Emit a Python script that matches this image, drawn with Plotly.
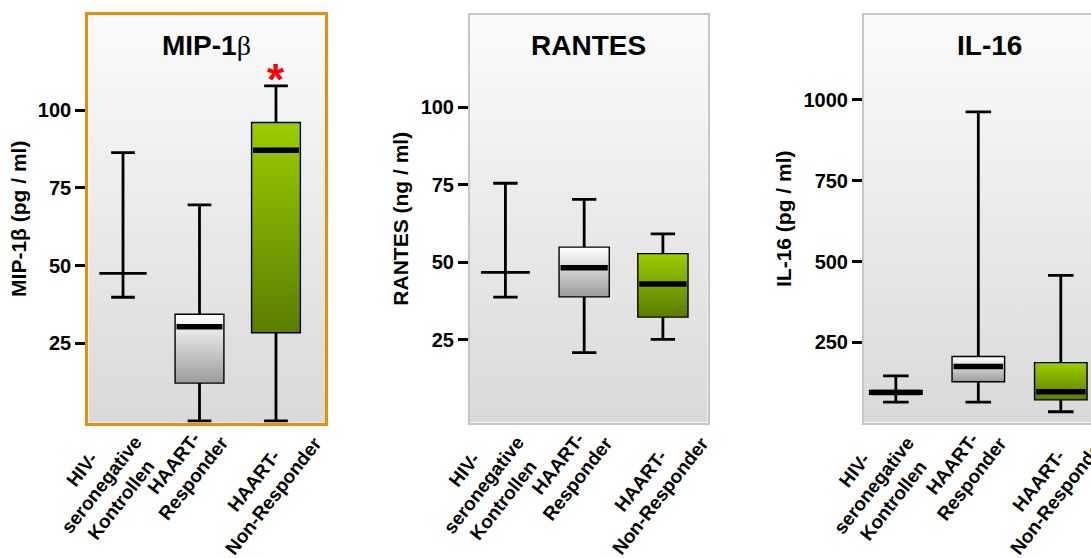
import base64
import plotly.graph_objects as go

# ---------------- data ----------------
categories = ["HIV-<br>seronegative<br>Kontrollen", "HAART-<br>Responder", "HAART-<br>Non-Responder"]

mip_lower = [39.8, 0.0, 0.0]
mip_q1 = [47.5, 12.4, 28.6]
mip_median = [47.5, 30.3, 87.1]
mip_q3 = [47.5, 34.1, 95.8]
mip_upper = [86.3, 69.5, 107.8]

rantes_lower = [38.8, 20.9, 25.2]
rantes_q1 = [46.8, 39.1, 32.6]
rantes_median = [46.8, 48.3, 43.0]
rantes_q3 = [46.8, 54.7, 52.6]
rantes_upper = [75.5, 70.3, 59.2]

il16_lower = [65, 65, 35]
il16_q1 = [91, 130, 74]
il16_median = [95, 175, 97]
il16_q3 = [99, 204, 185]
il16_upper = [146, 963, 457]

mip_ticks = [25, 50, 75, 100]
rantes_ticks = [25, 50, 75, 100]
il16_ticks = [250, 500, 750, 1000]

significant = [False, False, True]  # MIP-1b non-responder marked with *

# ---------------- style ----------------
FONT = "Liberation Sans, Arial, sans-serif"
W, H = 1091, 558
BOX_W = 0.62
fills = [None, ("#9c9c9c", "#ffffff"), ("#5b7e00", "#9acd00")]

panels = [
    dict(title="MIP-1<span style='font-family:Liberation Serif;font-weight:normal'>β</span>",
         ytitle="MIP-1β (pg / ml)", lower=mip_lower, q1=mip_q1, med=mip_median, q3=mip_q3,
         upper=mip_upper, ticks=mip_ticks, xdom=[88.3, 325.0], xr=[-0.454, 2.641],
         yr=[-0.49, 130.6], frame="#e88e0a", fw=3.2, mirror_y=True, title_x=0.5, star=significant),
    dict(title="RANTES", ytitle="RANTES (ng / ml)", lower=rantes_lower, q1=rantes_q1,
         med=rantes_median, q3=rantes_q3, upper=rantes_upper, ticks=rantes_ticks,
         xdom=[470.0, 707.7], xr=[-0.45, 2.569], yr=[-1.59, 129.7], frame="#c6c6c6", fw=2,
         mirror_y=True, title_x=0.5, star=None),
    dict(title="IL-16", ytitle="IL-16 (pg / ml)", lower=il16_lower, q1=il16_q1, med=il16_median,
         q3=il16_q3, upper=il16_upper, ticks=il16_ticks, xdom=[864.0, 1091.0],
         xr=[-0.386, 2.366], yr=[1.8, 1263], frame="#c6c6c6", fw=2, mirror_y=False,
         title_x=0.552, star=None),
]
label_xshift = [-22, -16, -12]
ydom = [1 - 422.5 / H, 1 - 15 / H]

svg = ('<svg xmlns="http://www.w3.org/2000/svg" width="10" height="100" viewBox="0 0 10 100" '
       'preserveAspectRatio="none"><defs><linearGradient id="g" x1="0" y1="0" x2="0" y2="1">'
       '<stop offset="0" stop-color="#fbfbfb"/><stop offset="1" stop-color="#d9d9d9"/>'
       '</linearGradient></defs><rect width="10" height="100" fill="url(#g)"/></svg>')
bg_uri = "data:image/svg+xml;base64," + base64.b64encode(svg.encode()).decode()

fig = go.Figure()
annotations = []
images = []

for p_i, p in enumerate(panels):
    n = "" if p_i == 0 else str(p_i + 1)
    xa, ya = "x" + n, "y" + n
    for i in range(len(categories)):
        # gradient box body
        if fills[i] is not None and p["q3"][i] > p["q1"][i]:
            bot, top = fills[i]
            fig.add_trace(go.Scatter(
                x=[i - BOX_W / 2, i + BOX_W / 2, i + BOX_W / 2, i - BOX_W / 2, i - BOX_W / 2],
                y=[p["q1"][i], p["q1"][i], p["q3"][i], p["q3"][i], p["q1"][i]],
                fill="toself", mode="lines", line=dict(width=0),
                fillgradient=dict(type="vertical", colorscale=[[0, bot], [1, top]]),
                xaxis=xa, yaxis=ya, hoverinfo="skip", showlegend=False))
        fig.add_trace(go.Box(
            x=[i], q1=[p["q1"][i]], median=[p["med"][i]], q3=[p["q3"][i]],
            lowerfence=[p["lower"][i]], upperfence=[p["upper"][i]],
            width=BOX_W, whiskerwidth=0.5, fillcolor="rgba(0,0,0,0)",
            line=dict(color="black", width=2.8), boxpoints=False,
            xaxis=xa, yaxis=ya, hoverinfo="skip", showlegend=False))
        if p["q3"][i] > p["q1"][i]:
            fig.add_trace(go.Scatter(
                x=[i - BOX_W / 2 + 0.01, i + BOX_W / 2 - 0.01], y=[p["med"][i], p["med"][i]],
                mode="lines", line=dict(color="black", width=5.5),
                xaxis=xa, yaxis=ya, hoverinfo="skip", showlegend=False))
        if p["star"] is not None and p["star"][i]:
            annotations.append(dict(
                x=i, y=p["upper"][i], xref=xa, yref=ya, text="<b>*</b>", showarrow=False,
                font=dict(family=FONT, size=44, color="#ff0000"), xanchor="center",
                yanchor="bottom", yshift=-20))
        annotations.append(dict(
            x=i, y=0, xref=xa, yref=ya + " domain", text=categories[i], showarrow=False,
            textangle=-52, align="center", xanchor="center", yanchor="top",
            xshift=label_xshift[i], yshift=8,
            font=dict(family=FONT, size=19, color="black", weight="bold")))

    annotations.append(dict(
        x=p["title_x"], y=0.925, xref=xa + " domain", yref=ya + " domain", text=p["title"],
        showarrow=False, xanchor="center", yanchor="middle",
        font=dict(family=FONT, size=28, color="black", weight="bold")))

    images.append(dict(source=bg_uri, xref=xa + " domain", yref=ya + " domain", x=0, y=1,
                       sizex=1, sizey=1, xanchor="left", yanchor="top", sizing="stretch",
                       layer="below"))

    xkey = "xaxis" + n
    ykey = "yaxis" + n
    fig.update_layout(**{
        xkey: dict(domain=[p["xdom"][0] / W, p["xdom"][1] / W], range=p["xr"], anchor=ya,
                   showgrid=False, zeroline=False, showticklabels=False, ticks="",
                   showline=True, linecolor=p["frame"], linewidth=p["fw"], mirror=True,
                   fixedrange=True),
        ykey: dict(domain=ydom, range=p["yr"], anchor=xa, showgrid=False, zeroline=False,
                   tickvals=p["ticks"], ticks="outside", ticklen=10, tickwidth=2.5,
                   tickcolor="black", showline=True, linecolor=p["frame"], linewidth=p["fw"],
                   mirror=p["mirror_y"],
                   tickfont=dict(family=FONT, size=20, color="black", weight="bold"),
                   title=dict(text=p["ytitle"], standoff=6,
                              font=dict(family=FONT, size=21, color="black", weight="bold")),
                   fixedrange=True),
    })

fig.update_layout(
    width=W, height=H, margin=dict(l=0, r=0, t=0, b=0),
    paper_bgcolor="white", plot_bgcolor="rgba(0,0,0,0)",
    annotations=annotations, images=images, showlegend=False,
)

fig.write_html("out.html", config={"displayModeBar": False},
               post_script="document.body.style.margin='0';")
